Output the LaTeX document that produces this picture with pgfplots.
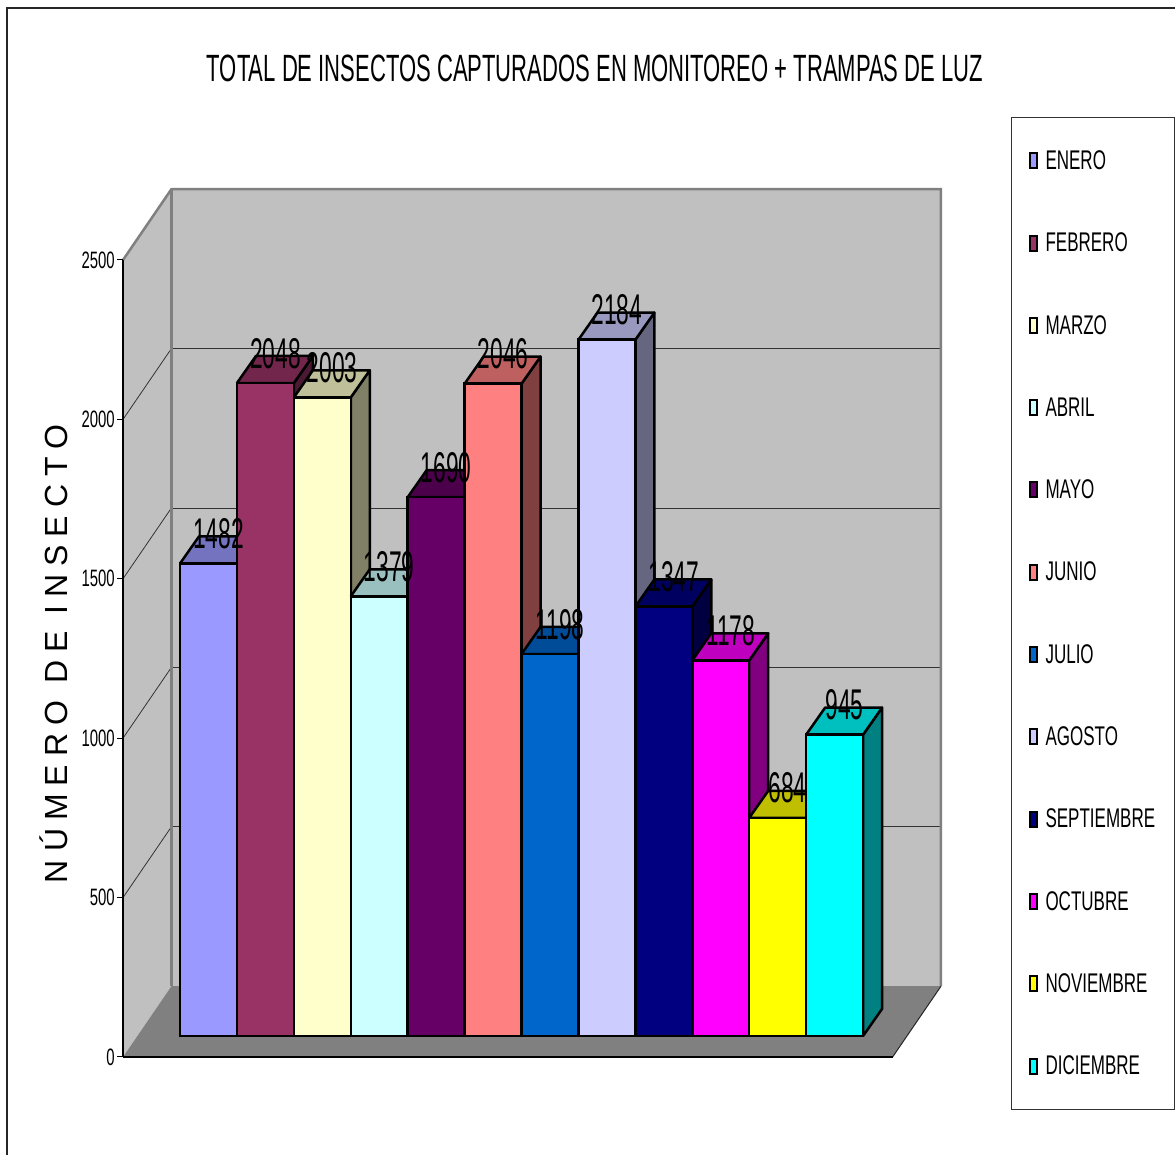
\documentclass[border=0pt]{standalone}
\usepackage{pgfplots}
\pgfplotsset{compat=1.18}
\usepackage{pgfplotstable}
\usepackage{fontspec}
\setmainfont{Liberation Sans}
\newfontfamily\nA{Liberation Sans}[FakeStretch=0.63]
\newfontfamily\nB{Liberation Sans}[FakeStretch=0.53]
\newfontfamily\nT{Liberation Sans}[FakeStretch=0.58]

\definecolor{barc0}{HTML}{9999FF}
\definecolor{barc1}{HTML}{993366}
\definecolor{barc2}{HTML}{FFFFCC}
\definecolor{barc3}{HTML}{CCFFFF}
\definecolor{barc4}{HTML}{660066}
\definecolor{barc5}{HTML}{FF8080}
\definecolor{barc6}{HTML}{0066CC}
\definecolor{barc7}{HTML}{CCCCFF}
\definecolor{barc8}{HTML}{000080}
\definecolor{barc9}{HTML}{FF00FF}
\definecolor{barc10}{HTML}{FFFF00}
\definecolor{barc11}{HTML}{00FFFF}
\definecolor{wallc}{HTML}{C0C0C0}
\definecolor{floorc}{HTML}{808080}

\pgfplotstableread{
x v name
1 1482 ENERO
2 2048 FEBRERO
3 2003 MARZO
4 1379 ABRIL
5 1690 MAYO
6 2046 JUNIO
7 1198 JULIO
8 2184 AGOSTO
9 1347 SEPTIEMBRE
10 1178 OCTUBRE
11 684 NOVIEMBRE
12 945 DICIEMBRE
}\datatable

\pgfplotsset{mylegend/.style={legend image code/.code={\draw[##1, draw=black, line width=2pt] (0pt,-7.5pt) rectangle (7pt,7.5pt);}}}
\def\ddx{0.334}
\def\ddy{85}

\begin{document}
\begin{tikzpicture}
\useasboundingbox (0pt,0pt) rectangle (1175pt,1155pt);
\draw[line width=1.5pt, black!85] (7pt,-10pt) -- (7pt,1147pt) -- (1185pt,1147pt);

% walls and floor
\begin{axis}[
  at={(123pt,98pt)}, anchor=south west, scale only axis,
  width=769.6pt, height=797pt,
  xmin=0, xmax=13.52, ymin=0, ymax=2500,
  clip=false, axis on top, no markers,
  axis x line*=bottom, axis y line*=left,
  axis line style={black, line width=1.2pt},
  xtick=\empty, ytick={0,500,1000,1500,2000,2500},
  tick align=outside, major tick length=6pt,
  tick style={black, line width=1pt},
  yticklabel style={font=\nA\fontsize{23.7}{28}\selectfont, inner sep=2pt},
  /pgf/number format/assume math mode=true,
  /pgf/number format/1000 sep={},
]
\addplot[fill=wallc, draw=none] coordinates {(0.85,222) (14.37,222) (14.37,2722) (0.85,2722) (0.85,222)};
\addplot[black!80, line width=0.8pt] coordinates {(0.85,722) (14.37,722)};
\addplot[black!80, line width=0.8pt] coordinates {(0.85,1222) (14.37,1222)};
\addplot[black!80, line width=0.8pt] coordinates {(0.85,1722) (14.37,1722)};
\addplot[black!80, line width=0.8pt] coordinates {(0.85,2222) (14.37,2222)};
\addplot[fill=wallc, draw=none] coordinates {(0,0) (0,2500) (0.85,2722) (0.85,222) (0,0)};
\addplot[black!80, line width=0.8pt] coordinates {(0,500) (0.85,722)};
\addplot[black!80, line width=0.8pt] coordinates {(0,1000) (0.85,1222)};
\addplot[black!80, line width=0.8pt] coordinates {(0,1500) (0.85,1722)};
\addplot[black!80, line width=0.8pt] coordinates {(0,2000) (0.85,2222)};
\addplot[fill=floorc, draw=none] coordinates {(0,0) (13.52,0) (14.37,222) (0.85,222) (0,0)};
\addplot[floorc, line width=2.5pt, line join=miter] coordinates {(0,2500) (0.85,2722) (14.37,2722) (14.37,222)};
\addplot[floorc, line width=2.5pt] coordinates {(0.85,222) (0.85,2722)};
\addplot[black!85, line width=1pt] coordinates {(13.52,0) (14.37,222)};
\end{axis}

% bars
\begin{axis}[
  at={(151.54pt,119pt)}, anchor=south west, scale only axis,
  width=739.96pt, height=797pt,
  xmin=0, xmax=13, ymin=0, ymax=2500,
  clip=false, hide axis, no markers,
  /pgf/number format/assume math mode=true,
  /pgf/number format/1000 sep={},
  legend cell align=left,
  legend style={at={(axis description cs:1.1615,1.1531)}, anchor=north west,
    draw=black!80, line width=1pt, fill=white,
    font=\nA\fontsize{27}{32}\selectfont,
    inner xsep=17pt, inner ysep=31pt, row sep=58pt,
    /tikz/every odd column/.append style={column sep=6pt}},
]
\pgfplotsinvokeforeach{0,...,11}{%
  \pgfplotstablegetelem{#1}{v}\of\datatable
  \pgfmathsetmacro\vv{\pgfplotsretval}%
  \pgfplotstablegetelem{#1}{name}\of\datatable
  \let\nm\pgfplotsretval
  \pgfmathsetmacro\vt{\vv+\ddy}%
  \pgfmathsetmacro\xc{#1+1}%
  \pgfmathsetmacro\xl{#1+0.5}%
  \pgfmathsetmacro\xr{#1+1.5}%
  \pgfmathsetmacro\xlb{#1+0.5+\ddx}%
  \pgfmathsetmacro\xrb{#1+1.5+\ddx}%
  \edef\temp{%
    \noexpand\addplot[fill=barc#1!50!black, draw=black, line width=2.5pt, line join=round, forget plot]
      coordinates {(\xr,0) (\xr,\vv) (\xrb,\vt) (\xrb,\ddy) (\xr,0)};
    \noexpand\addplot[fill=barc#1!75!black, draw=black, line width=2.5pt, line join=round, forget plot]
      coordinates {(\xl,\vv) (\xr,\vv) (\xrb,\vt) (\xlb,\vt) (\xl,\vv)};
    \noexpand\addplot[ybar, bar width=1, bar shift=0pt, fill=barc#1, draw=black, line width=2.5pt, mylegend]
      coordinates {(\xc,\vv)};
    \noexpand\addlegendentry{\nm}
  }\temp
}
\addplot[draw=none, forget plot, nodes near coords,
  every node near coord/.append style={anchor=base, xshift=10pt, yshift=15pt,
    font=\nB\fontsize{43}{48}\selectfont, text=black, inner sep=0pt}]
  table[x=x, y=v] {\datatable};
\end{axis}

\node[font=\nT\fontsize{38}{44}\selectfont, anchor=base] at (595pt,1073pt)
  {TOTAL DE INSECTOS CAPTURADOS EN MONITOREO + TRAMPAS DE LUZ};
\node[rotate=90, anchor=base, font=\fontsize{32}{38}\selectfont\addfontfeature{LetterSpace=25}] at (67pt,501pt)
  {NÚMERO DE INSECTO};
\end{tikzpicture}
\end{document}
